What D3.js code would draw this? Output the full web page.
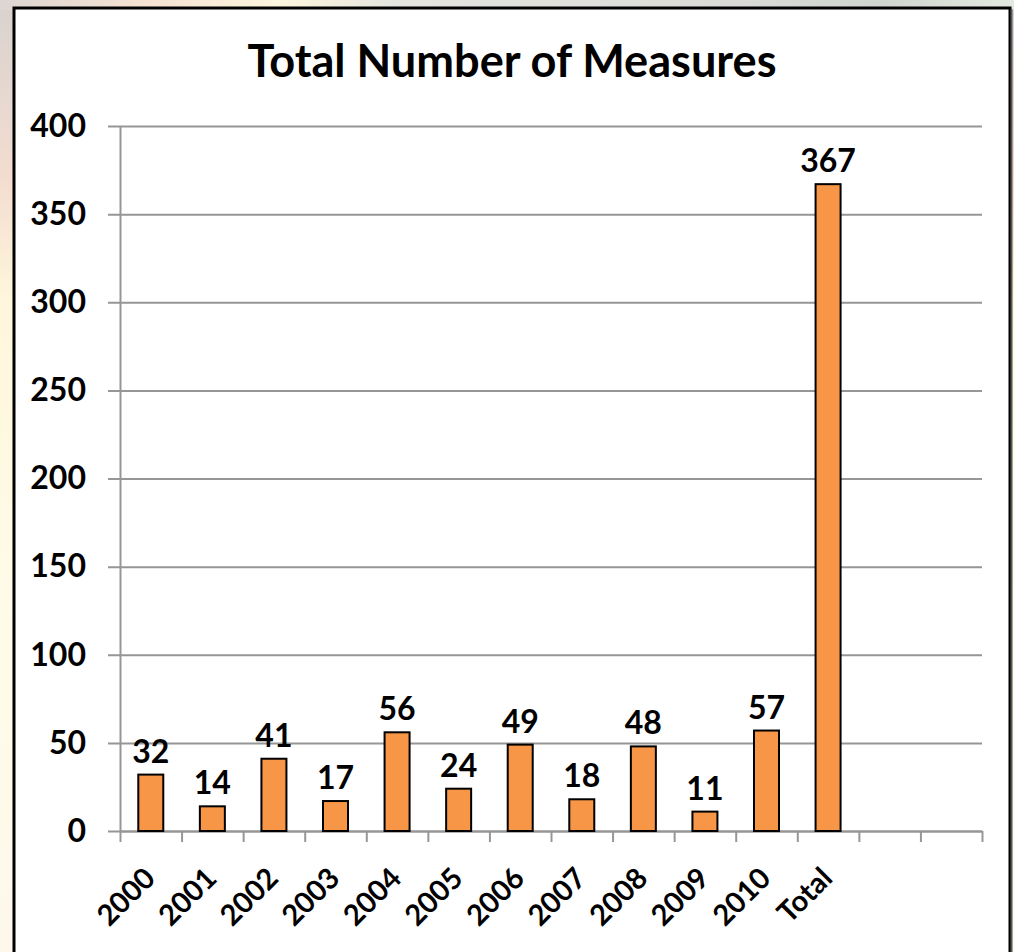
<!DOCTYPE html>
<html>
<head>
<meta charset="utf-8">
<script src="https://cdn.jsdelivr.net/npm/d3@7/dist/d3.min.js"></script>
<style>
  html, body { margin: 0; padding: 0; }
  body { width: 1014px; height: 952px; overflow: hidden;
    background: linear-gradient(180deg, #d9d2cf 0px, #f3ddd0 180px, #fff6dc 300px, #fffbe8 600px, #fdf8ea 952px); }
  #topstrip { position: absolute; left: 0; top: 0; width: 1014px; height: 10px;
    background: linear-gradient(90deg, #ddd6d2 0px, #f6e3d3 150px, #fdf6de 280px, #e4e4e0 400px, #dcdcd8 700px, #d0d6cf 880px, #e3e8e0 1014px); }
  svg { position: absolute; left: 0; top: 0; }
</style>
</head>
<body>
<div id="topstrip"></div>
<svg id="chart" width="1014" height="952"></svg>
<script>
const categories = ["2000","2001","2002","2003","2004","2005","2006","2007","2008","2009","2010","Total"];
const values = [32, 14, 41, 17, 56, 24, 49, 18, 48, 11, 57, 367];
const emptySlots = ["", " "];
const yTicks = [0, 50, 100, 150, 200, 250, 300, 350, 400];
const title = "Total Number of Measures";

(function () {
const svg = d3.select("#chart");
const font = "Lato, 'Open Sans', sans-serif";

// panel
svg.append("rect").attr("x", 14).attr("y", 8).attr("width", 996).attr("height", 960)
  .attr("fill", "#ffffff").attr("stroke", "#000").attr("stroke-width", 3);
svg.append("line").attr("x1", 1011.5).attr("x2", 1011.5).attr("y1", 9).attr("y2", 952)
  .attr("stroke", "#555").attr("stroke-width", 2);

const pLeft = 120, pRight = 982, pTop = 126, pBottom = 831;
const slots = categories.concat(emptySlots);
const x = d3.scaleBand().domain(slots).range([pLeft, pRight]).paddingInner(0.594).paddingOuter(0.297);
const xTick = d3.scaleLinear().domain([0, slots.length]).range([pLeft, pRight]);
const y = d3.scaleLinear().domain([0, 400]).range([pBottom, pTop]);

// gridlines + y labels
const gy = svg.append("g").attr("transform", `translate(${pRight},0)`)
  .call(d3.axisLeft(y).tickValues(yTicks).tickSize(pRight - pLeft + 12).tickPadding(22).tickSizeOuter(0));
gy.select(".domain").remove();
gy.selectAll("line").attr("stroke", "#969696").attr("stroke-width", 2);
gy.selectAll("text").attr("font-family", font).attr("font-weight", "bold")
  .attr("font-size", 32).attr("fill", "#000");

// y axis line
const ya = svg.append("g").attr("transform", `translate(${pLeft},0)`)
  .call(d3.axisLeft(y).tickValues([]).tickSizeOuter(0));
ya.select(".domain").attr("stroke", "#969696").attr("stroke-width", 2);

// x axis with ticks at slot boundaries
const xa = svg.append("g").attr("transform", `translate(0,${pBottom})`)
  .call(d3.axisBottom(xTick).tickValues(d3.range(0, slots.length + 1)).tickSize(11).tickSizeOuter(0).tickFormat(""));
xa.select(".domain").attr("stroke", "#969696").attr("stroke-width", 2);
xa.selectAll("line").attr("stroke", "#969696").attr("stroke-width", 2);

// bars
svg.append("g").selectAll("rect").data(values).join("rect")
  .attr("x", (d, i) => x(categories[i]))
  .attr("y", d => y(d))
  .attr("width", x.bandwidth())
  .attr("height", d => y(0) - y(d))
  .attr("fill", "#F79646").attr("stroke", "#000").attr("stroke-width", 2);

// value labels
svg.append("g").selectAll("text").data(values).join("text")
  .attr("x", (d, i) => x(categories[i]) + x.bandwidth() / 2)
  .attr("y", d => y(d) - 12)
  .attr("text-anchor", "middle")
  .attr("font-family", font).attr("font-weight", "bold").attr("font-size", 32)
  .text(d => d);

// x labels
svg.append("g").selectAll("text").data(categories).join("text")
  .attr("transform", d => `translate(${x(d) + x.bandwidth() / 2 + 6},880) rotate(-45)`)
  .attr("text-anchor", "end")
  .attr("font-family", font).attr("font-weight", "bold").attr("font-size", 29)
  .text(d => d);

// title
const t = svg.append("text").attr("x", 512).attr("y", 77).attr("text-anchor", "middle")
  .attr("font-family", font).attr("font-weight", "bold").attr("font-size", 40).text(title);
const w = t.node().getComputedTextLength();
t.attr("font-size", 40 * 529 / w);
})();
</script>
</body>
</html>
